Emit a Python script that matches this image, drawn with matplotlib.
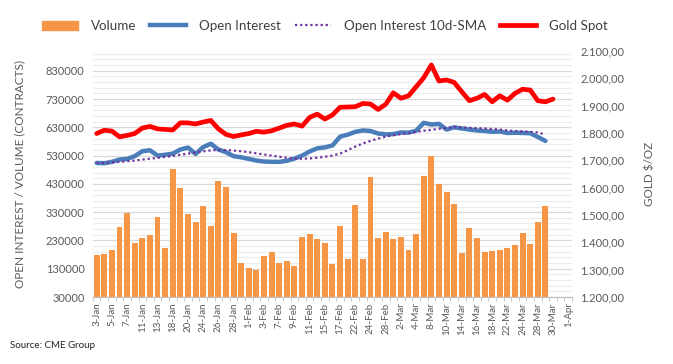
import matplotlib
matplotlib.use("Agg")
import matplotlib.pyplot as plt
from matplotlib.lines import Line2D
from matplotlib.patches import Patch
from matplotlib.ticker import FuncFormatter

plt.rcParams["font.family"] = ["Lato", "DejaVu Sans"]

# trading days, Jan - Apr 2022 (every other one labelled)
days = ["3-Jan", "4-Jan", "5-Jan", "6-Jan", "7-Jan", "10-Jan", "11-Jan", "12-Jan", "13-Jan", "14-Jan",
        "18-Jan", "19-Jan", "20-Jan", "21-Jan", "24-Jan", "25-Jan", "26-Jan", "27-Jan", "28-Jan", "31-Jan",
        "1-Feb", "2-Feb", "3-Feb", "4-Feb", "7-Feb", "8-Feb", "9-Feb", "10-Feb", "11-Feb", "14-Feb",
        "15-Feb", "16-Feb", "17-Feb", "18-Feb", "22-Feb", "23-Feb", "24-Feb", "25-Feb", "28-Feb", "1-Mar",
        "2-Mar", "3-Mar", "4-Mar", "7-Mar", "8-Mar", "9-Mar", "10-Mar", "11-Mar", "14-Mar", "15-Mar",
        "16-Mar", "17-Mar", "18-Mar", "21-Mar", "22-Mar", "23-Mar", "24-Mar", "25-Mar", "28-Mar", "29-Mar",
        "30-Mar", "31-Mar", "1-Apr"]

volume = [177000, 182000, 198000, 277000, 326000, 221000, 238000, 248000, 312000, 202000,
          483000, 415000, 323000, 294000, 351000, 280000, 439000, 419000, 255000, 149000,
          134000, 127000, 176000, 188000, 149000, 156000, 140000, 243000, 252000, 236000,
          220000, 145000, 280000, 163000, 355000, 163000, 454000, 238000, 259000, 234000,
          241000, 196000, 252000, 458000, 529000, 430000, 401000, 358000, 184000, 273000,
          238000, 188000, 191000, 198000, 202000, 213000, 255000, 216000, 294000, 351000]

open_interest = [504000, 503000, 508000, 516000, 518500, 528000, 545500, 549000, 530000, 533000,
                 537000, 551500, 558500, 536000, 560000, 572000, 551500, 542000, 528000, 524000,
                 518500, 512500, 509000, 508000, 508000, 511500, 519500, 530000, 544500, 556000,
                 559000, 566000, 597000, 604000, 614000, 619000, 617000, 608000, 605000, 606000,
                 612000, 611000, 618000, 646000, 640000, 642000, 622000, 630000, 626000, 622000,
                 619000, 617000, 614000, 615000, 610000, 611000, 610000, 609000, 596000, 582000]

oi_sma = [504000, 504000, 506000, 508000, 510000, 512500, 516000, 519000, 522000, 525500,
          529000, 533000, 537000, 541000, 545000, 548500, 550000, 549500, 548000, 545500,
          542000, 538000, 534000, 530000, 526000, 522000, 519000, 519000, 520000, 522500,
          526000, 530000, 537000, 549000, 562000, 573000, 582000, 590000, 597000, 602000,
          606000, 610000, 614000, 618000, 621000, 625000, 628000, 630000, 629500, 628500,
          627000, 626000, 624000, 622000, 619000, 617000, 615500, 614000, 612000, 604000]

gold = [1798, 1810, 1807, 1786, 1791, 1798, 1818, 1824, 1815, 1813,
        1811, 1837, 1837, 1833, 1840, 1846, 1815, 1795, 1787, 1793,
        1798, 1806, 1803, 1808, 1818, 1828, 1833, 1825, 1857, 1869,
        1851, 1866, 1894, 1895, 1896, 1908, 1906, 1886, 1905, 1947,
        1927, 1936, 1969, 2002, 2049, 1990, 1994, 1985, 1951, 1918,
        1927, 1941, 1914, 1936, 1920, 1945, 1960, 1957, 1918, 1914,
        1924]

ORANGE = "#F79646"
BLUE = "#4A7EBB"
PURPLE = "#7030A0"
RED = "#FF0000"
GREY = "#595959"

fig = plt.figure(figsize=(6.73, 3.64), dpi=100)
ax = fig.add_axes([0.138, 0.184, 0.712, 0.676])
ax2 = ax.twinx()

ax.bar(range(len(volume)), volume, width=0.78, color=ORANGE, zorder=2)
ax.plot(range(len(open_interest)), open_interest, color=BLUE, lw=3.2,
        solid_capstyle="round", solid_joinstyle="round", zorder=3)
ax.plot(range(len(oi_sma)), oi_sma, color=PURPLE, lw=1.6, ls=(0, (1, 1.3)), zorder=4)
ax2.plot(range(len(gold)), gold, color=RED, lw=3.4,
         solid_capstyle="round", solid_joinstyle="round")

ax.set_xlim(-0.5, len(days) - 0.5)
ax.set_ylim(30000, 900000)
ax2.set_ylim(1200, 2100)
ax.set_yticks(range(30000, 900000, 100000))
ax.set_yticks(range(30000, 900000, 20000), minor=True)
ax2.set_yticks(range(1200, 2101, 100))
ax2.yaxis.set_major_formatter(FuncFormatter(
    lambda v, p: f"{v:,.2f}".replace(",", "X").replace(".", ",").replace("X", ".")))

ax.grid(axis="y", which="major", color="#D9D9D9", lw=0.9, zorder=0)
ax.grid(axis="y", which="minor", color="#ECECEC", lw=0.8, zorder=0)
ax.set_axisbelow(True)

ax.set_xticks(range(0, len(days), 2))
ax.set_xticklabels(days[::2], rotation=90, fontsize=7, color=GREY)
ax.set_xticks([i - 0.5 for i in range(len(days) + 1)], minor=True)
ax.tick_params(axis="x", which="major", length=0, pad=4)
ax.tick_params(axis="x", which="minor", length=3, color="#BFBFBF")
ax.tick_params(axis="y", which="both", length=0, labelsize=8, labelcolor=GREY, pad=6)
ax2.tick_params(axis="y", length=0, labelsize=8, labelcolor=GREY, pad=6)

for a in (ax, ax2):
    for s in ("top", "left", "right"):
        a.spines[s].set_visible(False)
    a.spines["bottom"].set_color("#BFBFBF")

ax.set_ylabel("OPEN INTEREST / VOLUME (CONTRACTS)", fontsize=8.5, color=GREY, labelpad=15)
ax2.set_ylabel("GOLD $/OZ", fontsize=8.5, color=GREY, rotation=90, labelpad=14)

handles = [Patch(color=ORANGE),
           Line2D([], [], color=BLUE, lw=3.2),
           Line2D([], [], color=PURPLE, lw=1.6, ls=(0, (1, 1.3))),
           Line2D([], [], color=RED, lw=3.4)]
labels = ["Volume", "Open Interest", "Open Interest 10d-SMA", "Gold Spot"]
fig.legend(handles, labels, loc="center left", bbox_to_anchor=(30 / 673, 1 - 26 / 364),
           ncol=4, frameon=False, fontsize=9.6, handlelength=2.7, handleheight=0.7,
           handletextpad=1.0, columnspacing=1.0, labelcolor="#404040")

fig.text(10 / 673, 1 - 345 / 364, "Source: CME Group", fontsize=7, color="#222222",
         va="center", ha="left")

fig.savefig("out.png", dpi=100)
